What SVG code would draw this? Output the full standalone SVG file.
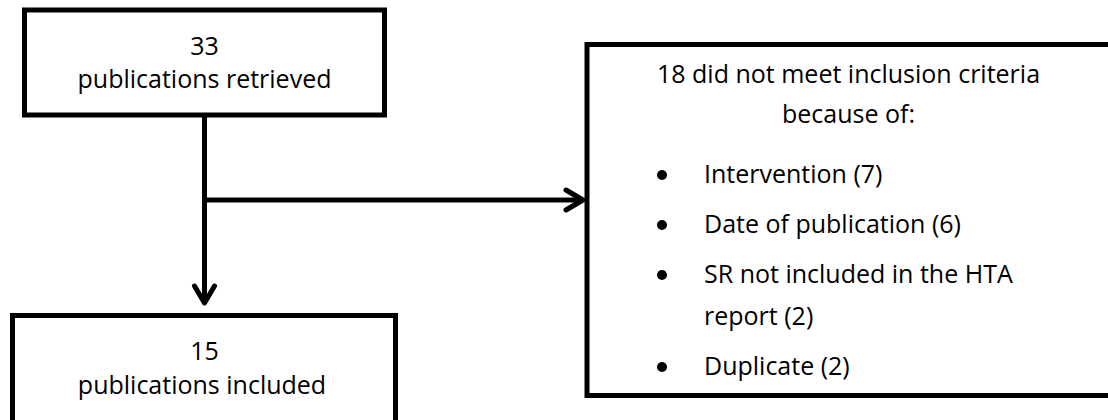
<svg xmlns="http://www.w3.org/2000/svg" width="1108" height="420" viewBox="0 0 1108 420">
<style>
.box{fill:#fff;stroke:#000;stroke-width:5}
.t{font-family:"Open Sans","Liberation Sans",sans-serif;font-size:25px;fill:#000}
.c{text-anchor:middle}
.edge{fill:none;stroke:#000;stroke-width:5}
</style>
<defs>
<marker id="chev" markerUnits="userSpaceOnUse" markerWidth="40" markerHeight="40" refX="0" refY="0" orient="auto" overflow="visible">
<path d="M-17,-10 L0,0 L-17,10" fill="none" stroke="#000" stroke-width="5" stroke-linecap="round" stroke-linejoin="round"/>
</marker>
</defs>
<g id="connectors">
<path class="edge" d="M204.5,117 L204.5,303" marker-end="url(#chev)"/>
<path class="edge" d="M204.5,200 L583,200" marker-end="url(#chev)"/>
</g>
<g id="retrieved">
<rect class="box" x="24.5" y="10" width="360" height="105"/>
<text class="t c" x="204.5" y="55">33</text>
<text class="t c" x="204.5" y="88">publications retrieved</text>
</g>
<g id="included">
<rect class="box" x="12.5" y="315.5" width="383" height="120"/>
<text class="t c" x="204.5" y="360">15</text>
<text class="t c" x="202" y="394">publications included</text>
</g>
<g id="excluded">
<rect class="box" x="587" y="44.5" width="530" height="351"/>
<text class="t c" x="848.5" y="83">18 did not meet inclusion criteria</text>
<text class="t c" x="848.5" y="123">because of:</text>
<circle cx="662" cy="175" r="5"/>
<text class="t" x="704" y="183">Intervention (7)</text>
<circle cx="662" cy="225" r="5"/>
<text class="t" x="704" y="233">Date of publication (6)</text>
<circle cx="662" cy="275" r="5"/>
<text class="t" x="704" y="283">SR not included in the HTA</text>
<text class="t" x="704" y="325">report (2)</text>
<circle cx="662" cy="367" r="5"/>
<text class="t" x="704" y="375">Duplicate (2)</text>
</g>
</svg>
